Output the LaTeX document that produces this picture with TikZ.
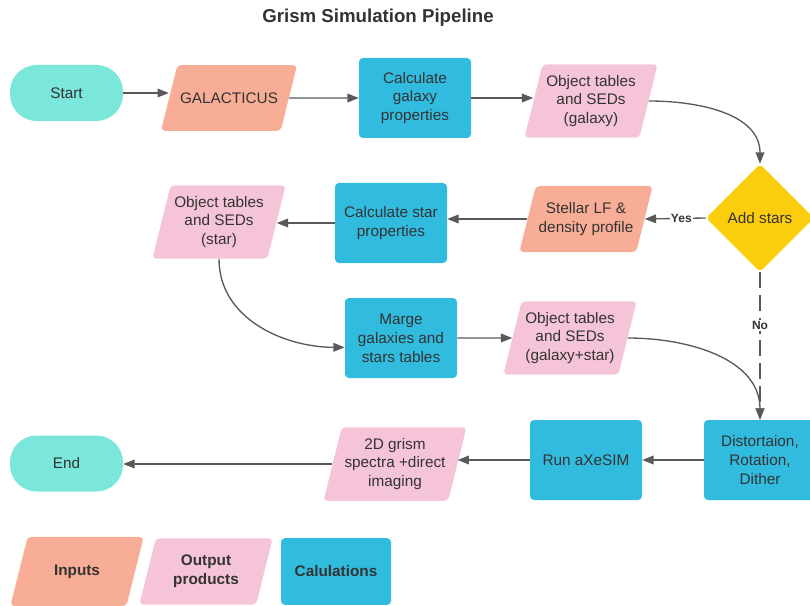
\documentclass[tikz,border=0pt]{standalone}
\usepackage{fontspec}
\setmainfont{Liberation Sans}
\usetikzlibrary{shapes.geometric, arrows.meta, positioning}
\definecolor{termcol}{HTML}{7BE6DA}
\definecolor{inputcol}{HTML}{F8AE96}
\definecolor{outputcol}{HTML}{F6C4D8}
\definecolor{calccol}{HTML}{31BCDF}
\definecolor{decisioncol}{HTML}{FCCD0C}
\definecolor{textgray}{HTML}{333333}
\definecolor{arrowgray}{HTML}{595959}
\tikzset{
    base/.style={text=textgray, font=\fontsize{11.5}{14.2}\selectfont, align=center, inner sep=2pt},
    terminal/.style={base, fill=termcol, rounded corners=20pt, minimum width=84.75pt, minimum height=42pt},
    slanted/.style={base, trapezium, trapezium left angle=76, trapezium right angle=104, trapezium stretches body, rounded corners=3pt, minimum width=100pt, inner ysep=#1},
    inputbox/.style={slanted=#1, fill=inputcol},
    inputbox/.default=20.6pt,
    outputbox/.style={slanted=#1, fill=outputcol},
    outputbox/.default=8pt,
    calcbox/.style={base, fill=calccol, rounded corners=3pt, minimum width=84pt, minimum height=60pt},
    decision/.style={base, diamond, fill=decisioncol, rounded corners=3pt, minimum size=81pt, inner sep=1pt},
    flow/.style={draw=arrowgray, line width=1pt, -{Triangle[length=8.5pt, width=6.5pt]}},
    choice/.style={fill=white, text=textgray, font=\bfseries\fontsize{9}{10}\selectfont, inner sep=1pt},
    legendtext/.style={font=\bfseries\fontsize{11.5}{14.2}\selectfont},
}

\begin{document}
\begin{tikzpicture}[x=0.75pt, y=-0.75pt]
\clip (0,0) rectangle (810,606);

\node[text=textgray, font=\bfseries\fontsize{14}{17}\selectfont] (title) at (378,18) {Grism Simulation Pipeline};

\node[terminal] (start) at (66.5,93) {Start};
\node[inputbox] (galacticus) at (229,98) {GALACTICUS};
\node[calcbox] (calcgal) at (415,98) {Calculate\\galaxy\\properties};
\node[outputbox] (objgal) at (591,101) {Object tables\\and SEDs\\(galaxy)};
\node[decision] (addstars) at (760,218) {Add stars};

\node[inputbox=12.3pt] (stellar) at (586,219) {Stellar LF \&\\density profile};
\node[calcbox] (calcstar) at (391,223) {Calculate star\\properties};
\node[outputbox] (objstar) at (219,222) {Object tables\\and SEDs\\(star)};

\node[calcbox] (marge) at (401,338) {Marge\\galaxies and\\stars tables};
\node[outputbox] (objall) at (570,338) {Object tables\\and SEDs\\(galaxy+star)};

\node[calcbox] (distort) at (760,460) {Distortaion,\\Rotation,\\Dither};
\node[calcbox] (axesim) at (586,460) {Run aXeSIM};
\node[outputbox] (grism) at (395,464) {2D grism\\spectra +direct\\imaging};
\node[terminal] (end) at (66.5,463.5) {End};

\node[inputbox=20.8pt, legendtext] (leginput) at (77,571.5) {Inputs};
\node[outputbox=12.5pt, legendtext] (legoutput) at (206,571.5) {Output\\products};
\node[calcbox, legendtext, minimum width=82.5pt, minimum height=50pt] (legcalc) at (336,571.5) {Calulations};

\draw[flow] (start.east) -- (start.east -| galacticus.west);
\draw[flow] (galacticus.east) -- (calcgal.west);
\draw[flow] (calcgal.east) -- (calcgal.east -| objgal.west);
\draw[flow] (objgal.east) to[out=0, in=90] (addstars.north);
\draw[flow] (addstars.west) -- (stellar.east) node[choice, pos=0.4] {Yes};
\draw[flow] (stellar.west) -- (stellar.west -| calcstar.east);
\draw[flow] (calcstar.west) -- (calcstar.west -| objstar.east);
\draw[flow] (objstar.south) to[out=-90, in=180] ([yshift=-7pt]marge.west);
\draw[flow] (marge.east) -- (objall.west);
\draw[flow] (objall.east) to[out=0, in=90] (distort.north);
\draw[flow, dash pattern=on 12pt off 5pt] (addstars.south) -- (distort.north) node[choice, pos=0.36] {No};
\draw[flow] (distort.west) -- (axesim.east);
\draw[flow] (axesim.west) -- (axesim.west -| grism.east);
\draw[flow] (grism.west) -- (grism.west -| end.east);

\end{tikzpicture}
\end{document}
